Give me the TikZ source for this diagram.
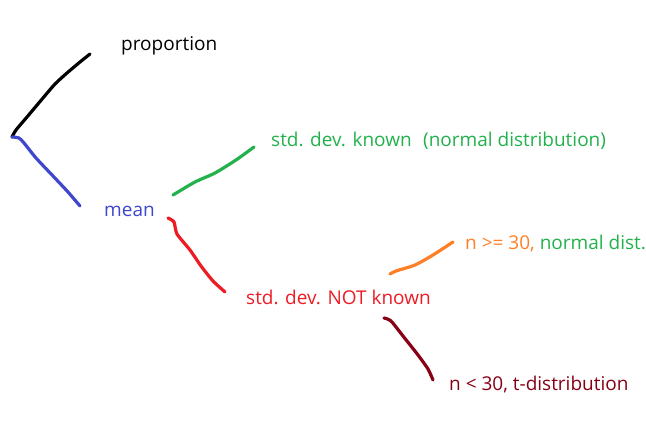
\documentclass[tikz,border=0pt]{standalone}
\usepackage{fontspec}
\setmainfont{Open Sans}
\definecolor{paintblue}{HTML}{3F48CC}
\definecolor{paintgreen}{HTML}{22B14C}
\definecolor{paintred}{HTML}{ED1C24}
\definecolor{paintorange}{HTML}{FF7F27}
\definecolor{paintbrown}{HTML}{880015}
\tikzset{
  stroke/.style = {line width = 3.2pt, line cap = round, line join = round},
  label/.style = {inner sep = 0pt, anchor = west, font = \fontsize{19}{22}\selectfont}
}
\begin{document}
\begin{tikzpicture}[x = 1pt, y = -1pt]
\useasboundingbox (0,0) rectangle (646,436);
% texts
\node [label] (proportion) at (121,46) {proportion};
\node [label, text = paintblue] (mean) at (104,211) {mean};
\node [label, text = paintgreen] (known) at (271,141) {std. dev. known\hspace{0.6em}(normal distribution)};
\node [label, text = paintred] (notknown) at (246,297) {std. dev. NOT known};
\node [label] (large) at (465,244) {\textcolor{paintorange}{n >= 30,} \textcolor{paintgreen}{normal dist.}};
\node [label, text = paintbrown] (small) at (449,385) {n < 30, t-distribution};
% stroke ends
\coordinate (root) at (12,137);
\coordinate (propend) at (90,54);
\coordinate (meanend) at (80,206);
\coordinate (knownstart) at (173,195);
\coordinate (knownend) at (254,147);
\coordinate (notstart) at (168,218);
\coordinate (notend) at (225,292);
\coordinate (largestart) at (390,274);
\coordinate (largeend) at (453,242);
\coordinate (smallstart) at (384,318);
\coordinate (smallend) at (433,380);
% strokes
\draw [stroke] plot [smooth, tension = 0.4] coordinates {(root) (16,130) (27,117) (43,98) (55,84) (67,73) (80,62) (propend)};
\draw [stroke, paintblue] plot [smooth, tension = 0.4] coordinates {(root) (19,138) (24,143) (36,158) (53,176) (68,192) (meanend)};
\draw [stroke, paintgreen] plot [smooth, tension = 0.4] coordinates {(knownstart) (195,182) (215,173) (236,160) (knownend)};
\draw [stroke, paintred] plot [smooth, tension = 0.4] coordinates {(notstart) (174,222) (177,234) (190,250) (201,266) (213,281) (notend)};
\draw [stroke, paintorange] plot [smooth, tension = 0.4] coordinates {(largestart) (396,271) (415,265) (433,255) (largeend)};
\draw [stroke, paintbrown] plot [smooth, tension = 0.4] coordinates {(smallstart) (391,321) (403,336) (418,355) (428,369) (smallend)};
\end{tikzpicture}
\end{document}
